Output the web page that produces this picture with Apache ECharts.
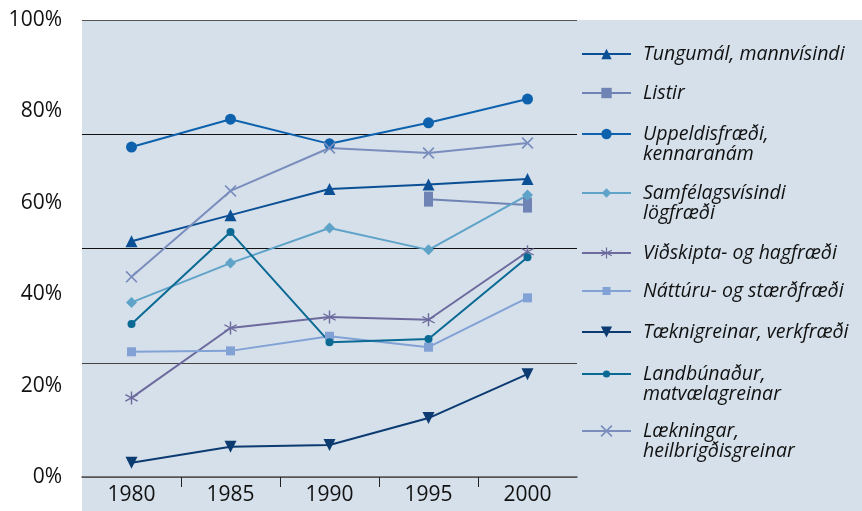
<!DOCTYPE html>
<html>
<head>
<meta charset="utf-8">
<script src="https://cdn.jsdelivr.net/npm/echarts@6/dist/echarts.min.js"></script>
<style>
	html, body { margin: 0; padding: 0; background: #fff; }
	#chart { width: 862px; height: 511px; }
</style>
</head>
<body>
<div id="chart"></div>
<script>
// data (percent)
const years = ["1980", "1985", "1990", "1995", "2000"];
const tungumal = [51.6, 57.3, 63.0, 64.0, 65.2];
const listir = [null, null, null, 60.8, 59.5];
const uppeldis = [72.2, 78.3, 72.9, 77.5, 82.7];
const samfelags = [38.2, 46.8, 54.5, 49.7, 61.7];
const vidskipta = [17.3, 32.6, 35.0, 34.4, 49.3];
const natturu = [27.4, 27.6, 30.8, 28.4, 39.2];
const taekni = [3.1, 6.6, 7.0, 12.9, 22.5];
const landbunadur = [33.5, 53.6, 29.5, 30.2, 48.1];
const laekningar = [43.8, 62.6, 72.0, 70.9, 73.1];
const gridTicks = 25; // black lines
const labelTicks = 20; // % labels

const FONT = "Open Sans";
const ASTERISK = "path://M9,0h2v20h-2z M1.84,4.13L19.16,14.13L18.16,15.87L0.84,5.87z M0.84,14.13L18.16,4.13L19.16,5.87L1.84,15.87z";
const CROSS = "path://M2,0L10,8L18,0L20,2L12,10L20,18L18,20L10,12L2,20L0,18L8,10L0,2z";

// name, data, color, symbol, size, legend icon height, legend center y, two lines?
const defs = [
	["Tungumál, mannvísindi", tungumal, "#0b4f95", "triangle", 12, 13, 54, false],
	["Listir", listir, "#6f84b4", "rect", [9, 15], 13, 93, false],
	["Uppeldisfræði,\nkennaranám", uppeldis, "#0e62ad", "circle", 11, 13, 134, true],
	["Samfélagsvísindi\nlögfræði", samfelags, "#5fa3c8", "diamond", 11, 12, 193, true],
	["Viðskipta- og hagfræði", vidskipta, "#6d6a9e", ASTERISK, 13, 14, 253, false],
	["Náttúru- og stærðfræði", natturu, "#82a2d6", "rect", 9, 10, 291, false],
	["Tæknigreinar, verkfræði", taekni, "#0c3b72", "triangle", 12, 14, 332, false],
	["Landbúnaður,\nmatvælagreinar", landbunadur, "#0b6a94", "circle", 8, 9, 374, true],
	["Lækningar,\nheilbrigðisgreinar", laekningar, "#7a8dbd", CROSS, 12, 15, 431, true],
];

const series = defs.map(function (d) {
	return {
		name: d[0],
		type: "line",
		data: d[1],
		symbol: d[3],
		symbolSize: d[4],
		symbolRotate: d[0].indexOf("Tækni") === 0 ? 180 : 0,
		showAllSymbol: true,
		lineStyle: { color: d[2], width: 2 },
		itemStyle: { color: d[2] },
		emphasis: { disabled: true },
		animation: false,
	};
});

const legends = defs.map(function (d) {
	const two = d[7];
	return {
		left: 581,
		top: d[6] - (two ? 30 : 10),
		orient: "vertical",
		padding: 0,
		itemWidth: 49,
		itemHeight: d[5],
		selectedMode: false,
		data: [d[0]],
		// empty first line so the icon sits next to the first text line
		formatter: function (n) { return two ? "\n" + n : n; },
		textStyle: {
			fontFamily: FONT,
			fontStyle: "italic",
			fontSize: 19.5,
			lineHeight: 20,
			color: "#111",
			padding: [0, 0, 0, 7],
		},
	};
});

const chart = echarts.init(document.getElementById("chart"));
chart.setOption({
	backgroundColor: "#fff",
	animation: false,
	graphic: [{
		type: "rect",
		left: 82,
		top: 20,
		z: -10,
		silent: true,
		shape: { width: 780, height: 491 },
		style: { fill: "#d5e0ea" },
	}],
	grid: { left: 82, right: 285, top: 20, bottom: 34 },
	legend: legends,
	xAxis: [
		{
			type: "category",
			data: years,
			boundaryGap: true,
			axisLine: { lineStyle: { color: "#555", width: 1.5 } },
			axisTick: { show: false },
			axisLabel: { fontFamily: FONT, fontSize: 21, color: "#111", margin: 8 },
		},
		{
			// only used for the small ticks between the years
			type: "value",
			position: "bottom",
			min: 0,
			max: years.length,
			interval: years.length,
			axisLine: { show: false },
			axisTick: { show: false },
			axisLabel: { show: false },
			splitLine: { show: false },
			minorTick: { show: true, splitNumber: years.length, length: 10, lineStyle: { color: "#222", width: 1 } },
		},
	],
	yAxis: [
		{
			type: "value",
			min: 0,
			max: 100,
			interval: gridTicks,
			axisLine: { show: false },
			axisTick: { show: false },
			axisLabel: { show: false },
			splitLine: { lineStyle: { color: ["#555", "#444", "#111", "#111", "#555"], width: 1.2 } },
		},
		{
			type: "value",
			position: "left",
			min: 0,
			max: 100,
			interval: labelTicks,
			axisLine: { show: false },
			axisTick: { show: false },
			splitLine: { show: false },
			axisLabel: { formatter: "{value}%", fontFamily: FONT, fontSize: 21, color: "#111", margin: 20 },
		},
	],
	series: series,
});
</script>
</body>
</html>
